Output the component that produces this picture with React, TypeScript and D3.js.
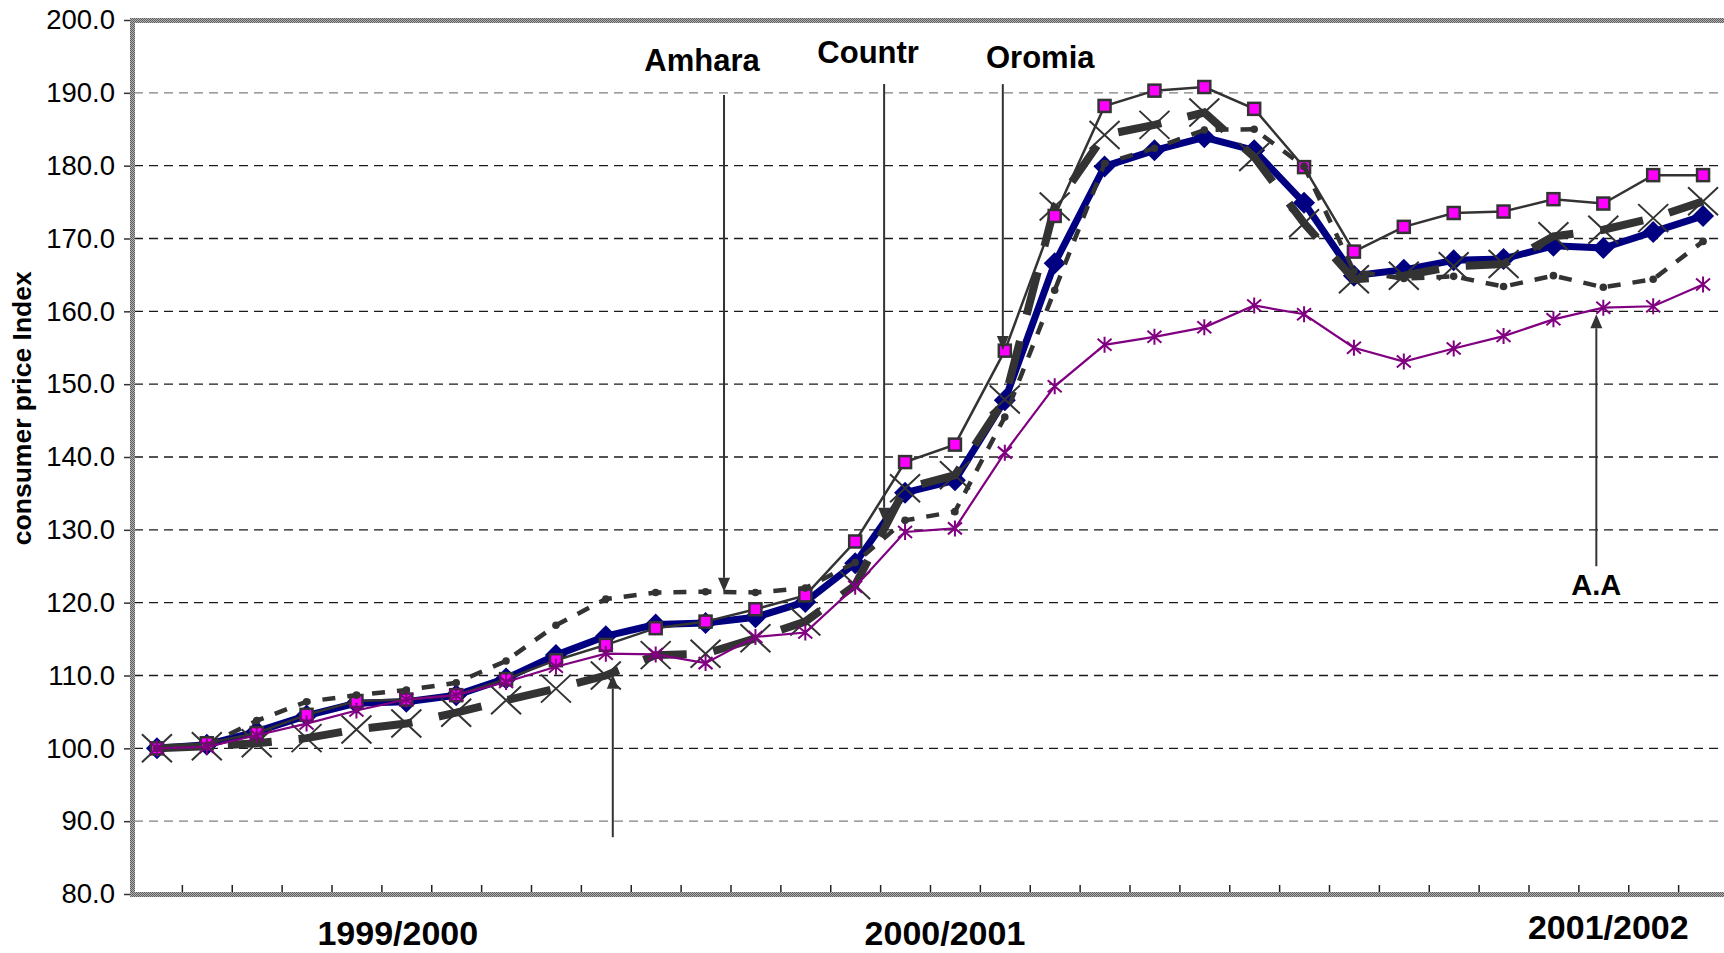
import React, { useEffect, useRef } from "react";
import * as d3 from "d3";

// 32 monthly observations, three Ethiopian fiscal years
const months: string[] = d3.range(1, 33).map((m) => `M${m}`);

// consumer price index series
const countryCPI = [100.0, 100.5, 102.3, 104.5, 106.2, 106.4, 107.3, 109.6, 112.8, 115.4, 117.0, 117.2, 118.0, 120.1, 125.4, 135.1, 136.8, 147.8, 166.6, 179.9, 182.1, 183.9, 182.1, 174.9, 164.9, 165.7, 167.0, 167.2, 169.0, 168.7, 170.9, 173.1];
const otherCPI = [100.0, 100.3, 100.7, 101.4, 102.6, 103.4, 104.9, 106.6, 108.2, 110.0, 112.8, 113.0, 115.1, 117.4, 122.4, 135.7, 137.5, 147.9, 174.4, 184.2, 185.6, 187.3, 181.2, 172.1, 164.4, 164.9, 166.2, 166.5, 170.3, 171.2, 172.8, 175.1];
const oromiaCPI = [100.0, 100.7, 102.1, 104.6, 106.5, 106.7, 107.3, 109.5, 112.1, 114.2, 116.5, 117.4, 119.1, 121.0, 128.4, 139.3, 141.7, 154.6, 173.1, 188.2, 190.3, 190.8, 187.8, 179.8, 168.2, 171.6, 173.5, 173.7, 175.4, 174.8, 178.7, 178.7];
const amharaCPI = [100.0, 100.4, 103.8, 106.4, 107.3, 108.0, 109.0, 112.0, 116.9, 120.5, 121.4, 121.5, 121.4, 122.0, 125.5, 131.3, 132.5, 145.5, 162.9, 180.3, 182.4, 184.9, 185.0, 179.9, 165.5, 164.5, 164.8, 163.4, 164.9, 163.3, 164.4, 169.6];
const addisCPI = [100.0, 100.2, 101.8, 103.4, 105.2, 106.7, 107.3, 109.1, 111.2, 113.0, 112.9, 111.7, 115.3, 115.9, 122.2, 129.7, 130.2, 140.6, 149.7, 155.4, 156.5, 157.8, 160.8, 159.6, 155.0, 153.1, 154.9, 156.6, 158.9, 160.5, 160.7, 163.7];

const yTicks = [80, 90, 100, 110, 120, 130, 140, 150, 160, 170, 180, 190, 200];

// fiscal year labels under the axis (category position)
const periodLabels = ["1999/2000", "2000/2001", "2001/2002"];
const periodAt = [4.83, 15.8, 29.1];

// arrow annotations: category position, start value, tip value
const arrowLabels = ["Amhara", "Countr", "Oromia", "", "A.A"];
const arrowAt = [11.37, 14.58, 16.96, 9.14, 28.86];
const arrowFrom = [189.7, 191.2, 191.2, 87.8, 125.0];
const arrowTo = [121.5, 131.1, 154.7, 110.1, 159.6];
const labelAt = [10.93, 14.26, 17.71, 0, 28.86];
const labelValue = [193.0, 194.1, 193.4, 0, 121.05];

const W = 1724;
const H = 953;
const FONT = "'Liberation Sans', Arial, sans-serif";

const App: React.FC = () => {
  const svgRef = useRef<SVGSVGElement | null>(null);

  useEffect(() => {
    if (!svgRef.current) return;
    const svg = d3.select(svgRef.current);
    svg.selectAll("*").remove();

    const left = 132, top = 20, bottom = 894, right = 1728;

    const x = d3.scaleLinear().domain([-0.5, months.length - 0.5]).range([left, right]);
    const y = d3.scaleLinear().domain([80, 200]).range([bottom, top]);

    // checker pattern for the frame
    const defs = svg.append("defs");
    const pat = defs.append("pattern")
      .attr("id", "frame-hatch")
      .attr("width", 2).attr("height", 2)
      .attr("patternUnits", "userSpaceOnUse");
    pat.append("rect").attr("width", 2).attr("height", 2).attr("fill", "#b4b4b4");
    pat.append("rect").attr("width", 1).attr("height", 1).attr("fill", "#5c5c5c");
    pat.append("rect").attr("x", 1).attr("y", 1).attr("width", 1).attr("height", 1).attr("fill", "#5c5c5c");

    // gridlines
    svg.append("g")
      .selectAll("line")
      .data(yTicks.filter((t) => t > 80 && t < 200))
      .enter()
      .append("line")
      .attr("x1", left + 2)
      .attr("x2", W)
      .attr("y1", (d) => y(d))
      .attr("y2", (d) => y(d))
      .attr("stroke", (d) => (d === 190 || d === 90 ? "#808080" : "#1a1a1a"))
      .attr("stroke-width", 1.3)
      .attr("stroke-dasharray", "9,6");

    // y axis
    const yAxis = svg.append("g")
      .attr("transform", `translate(${left - 1},0)`)
      .call(d3.axisLeft(y).tickValues(yTicks).tickSize(7).tickPadding(9).tickFormat(d3.format(".1f")));
    yAxis.select(".domain").remove();
    yAxis.selectAll("line").attr("stroke", "#333").attr("stroke-width", 1.5);
    yAxis.selectAll("text")
      .style("font-family", FONT)
      .style("font-size", "27.5px")
      .attr("fill", "#000");

    // x ticks (inside, between months)
    const xAxis = svg.append("g")
      .attr("transform", `translate(0,${bottom - 2})`)
      .call(d3.axisTop(x).tickValues(d3.range(0.5, months.length, 1)).tickSize(7).tickFormat(() => ""));
    xAxis.select(".domain").remove();
    xAxis.selectAll("line").attr("stroke", "#222").attr("stroke-width", 1.5);

    // frame
    const frame = svg.append("g");
    frame.append("rect").attr("x", left - 2).attr("y", top - 2).attr("width", W - left + 2).attr("height", 5).attr("fill", "url(#frame-hatch)");
    frame.append("rect").attr("x", left - 2).attr("y", top - 2).attr("width", 5).attr("height", bottom - top + 4).attr("fill", "url(#frame-hatch)");
    frame.append("rect").attr("x", left - 2).attr("y", bottom - 2).attr("width", W - left + 2).attr("height", 5).attr("fill", "url(#frame-hatch)");

    const line = d3.line<number>().x((_, i) => x(i)).y((d) => y(d));

    const plot = svg.append("g");

    // Country: navy, thick, diamonds
    plot.append("path").datum(countryCPI).attr("d", line)
      .attr("fill", "none").attr("stroke", "#000080").attr("stroke-width", 7).attr("stroke-linejoin", "round");
    plot.append("g").selectAll("path").data(countryCPI).enter().append("path")
      .attr("transform", (d, i) => `translate(${x(i)},${y(d)})`)
      .attr("d", "M0,-11L11,0L0,11L-11,0Z")
      .attr("fill", "#000080");

    // unlabelled region: thick dark dashes with X markers
    plot.append("path").datum(otherCPI).attr("d", line)
      .attr("fill", "none").attr("stroke", "#333").attr("stroke-width", 8).attr("stroke-dasharray", "44,27");
    plot.append("g").selectAll("path").data(otherCPI).enter().append("path")
      .attr("transform", (d, i) => `translate(${x(i)},${y(d)})`)
      .attr("d", "M-15,-14L15,14M-15,14L15,-14")
      .attr("fill", "none").attr("stroke", "#333").attr("stroke-width", 2);

    // Oromia: thin dark line, magenta squares
    plot.append("path").datum(oromiaCPI).attr("d", line)
      .attr("fill", "none").attr("stroke", "#333").attr("stroke-width", 2.5);
    plot.append("g").selectAll("rect").data(oromiaCPI).enter().append("rect")
      .attr("x", (_, i) => x(i) - 6)
      .attr("y", (d) => y(d) - 6)
      .attr("width", 12).attr("height", 12)
      .attr("fill", "#ff00ff").attr("stroke", "#333").attr("stroke-width", 2.5);

    // Amhara: short dashes with small dots
    plot.append("path").datum(amharaCPI).attr("d", line)
      .attr("fill", "none").attr("stroke", "#333").attr("stroke-width", 4.5).attr("stroke-dasharray", "13,12");
    plot.append("g").selectAll("circle").data(amharaCPI).enter().append("circle")
      .attr("cx", (_, i) => x(i)).attr("cy", (d) => y(d)).attr("r", 3.8)
      .attr("fill", "#333");

    // Addis Ababa: purple with asterisks
    plot.append("path").datum(addisCPI).attr("d", line)
      .attr("fill", "none").attr("stroke", "#800080").attr("stroke-width", 2.2);
    plot.append("g").selectAll("path").data(addisCPI).enter().append("path")
      .attr("transform", (d, i) => `translate(${x(i)},${y(d)})`)
      .attr("d", "M0,-8L0,8M-7,-6L7,6M-7,6L7,-6")
      .attr("fill", "none").attr("stroke", "#800080").attr("stroke-width", 2);

    // arrows and labels
    const notes = svg.append("g");
    arrowAt.forEach((pos, k) => {
      const ax = x(pos);
      const y0 = y(arrowFrom[k]);
      const y1 = y(arrowTo[k]);
      const dir = y1 > y0 ? 1 : -1;
      const headLen = 14, headHalf = 6;
      notes.append("line")
        .attr("x1", ax).attr("x2", ax)
        .attr("y1", y0).attr("y2", y1 - dir * headLen)
        .attr("stroke", "#333").attr("stroke-width", 2);
      notes.append("path")
        .attr("d", `M${ax},${y1}L${ax - headHalf},${y1 - dir * headLen}L${ax + headHalf},${y1 - dir * headLen}Z`)
        .attr("fill", "#333");
      if (arrowLabels[k]) {
        notes.append("text")
          .attr("x", x(labelAt[k]))
          .attr("y", y(labelValue[k]))
          .attr("text-anchor", "middle")
          .style("font-family", FONT)
          .style("font-weight", "bold")
          .style("font-size", arrowLabels[k] === "A.A" ? "29px" : "31px")
          .text(arrowLabels[k]);
      }
    });

    // fiscal year labels
    svg.append("g").selectAll("text").data(periodLabels).enter().append("text")
      .attr("x", (_, i) => x(periodAt[i]))
      .attr("y", (_, i) => (i === 2 ? bottom + 45 : bottom + 51))
      .attr("text-anchor", "middle")
      .style("font-family", FONT)
      .style("font-weight", "bold")
      .style("font-size", "34px")
      .text((d) => d);

    // y axis title
    svg.append("text")
      .attr("transform", `translate(31,${y(146.7)}) rotate(-90)`)
      .attr("text-anchor", "middle")
      .style("font-family", FONT)
      .style("font-weight", "bold")
      .style("font-size", "26.5px")
      .text("consumer price Index");
  }, []);

  return (
    <svg
      ref={svgRef}
      width={W}
      height={H}
      style={{ position: "absolute", left: 0, top: 0, display: "block", background: "#fff" }}
    />
  );
};

export default App;
